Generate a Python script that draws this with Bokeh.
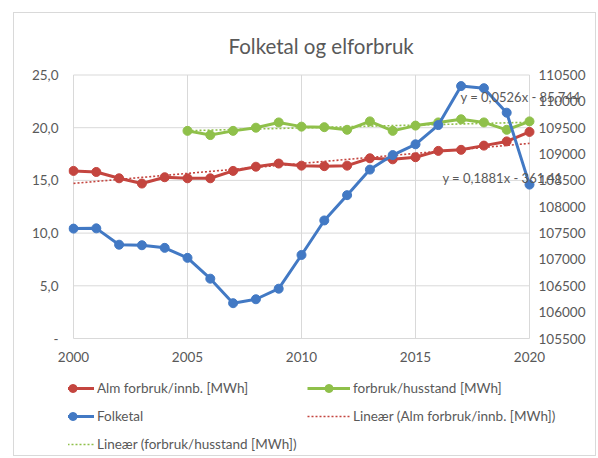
import numpy as np
from bokeh.plotting import figure
from bokeh.layouts import column
from bokeh.models import (Range1d, FixedTicker, CustomJSTickFormatter,
                          Legend, LegendItem, Label)
from bokeh.embed import file_html
from bokeh.resources import INLINE

# ---- data ----
years = list(range(2000, 2021))
alm = [15.9, 15.8, 15.2, 14.7, 15.3, 15.2, 15.2, 15.9, 16.3, 16.6, 16.4,
       16.35, 16.4, 17.1, 17.0, 17.2, 17.8, 17.9, 18.3, 18.7, 19.6]
hus_years = list(range(2005, 2021))
hus = [19.7, 19.3, 19.7, 20.0, 20.5, 20.1, 20.05, 19.8, 20.6, 19.7, 20.2,
       20.5, 20.8, 20.5, 19.8, 20.6]
folk = [107585, 107590, 107280, 107270, 107220, 107030, 106635, 106170, 106245,
        106445, 107085, 107740, 108220, 108705, 108980, 109185, 109550, 110290,
        110250, 109785, 108420]
x_ticks = [2000, 2005, 2010, 2015, 2020]
left_ticks = [0, 5, 10, 15, 20, 25]
right_ticks = list(range(105500, 111000, 500))
right_tick_labels = [str(t) for t in right_ticks]
title_text = "Folketal og elforbruk"
eq_hus = "y = 0,0526x - 85,744"
eq_alm = "y = 0,1881x - 361,41"
labels = ["Alm forbruk/innb. [MWh]", "forbruk/husstand [MWh]", "Folketal",
          "Lineær (Alm forbruk/innb. [MWh])", "Lineær (forbruk/husstand [MWh])"]

RED = "#c4453f"
GREEN = "#8fc04a"
BLUE = "#4279c4"
GRID = "#d9d9d9"
TXT = "#595959"
FONT = "Lato"
FS = "13.5px"

W = 581
PXY = 22.8    # px per year
PXU = 10.54   # px per left-axis unit
FL, FT, FH = 54, 53, 280   # frame left, top, height
x0 = years[0] - 5 / PXY
x1 = x0 + (W - FL) / PXY
y0 = left_ticks[0] - 8 / PXU
y1 = y0 + FH / PXU
rscale = (right_ticks[-1] - right_ticks[0]) / (left_ticks[-1] - left_ticks[0])

p = figure(width=W, height=357, output_backend="svg", toolbar_location=None,
           x_range=Range1d(x0, x1), y_range=Range1d(y0, y1),
           min_border_left=FL, min_border_right=0, min_border_top=FT,
           min_border_bottom=357 - FT - FH, outline_line_color=None,
           background_fill_color="white", border_fill_color="white")
p.extra_y_ranges = {"folk": Range1d(right_ticks[0] + rscale * y0,
                                    right_ticks[0] + rscale * y1)}

# title
p.title.text = title_text
p.title.text_font = FONT
p.title.text_font_size = "20.5px"
p.title.text_font_style = "normal"
p.title.text_color = TXT
p.title.align = "left"
p.title.offset = 160
p.title.standoff = 18

# grids (limited to the 2000-2020 / 0-25 plot area)
p.grid.visible = False
p.segment(x0=[years[0]] * len(left_ticks), x1=[years[-1]] * len(left_ticks),
          y0=left_ticks, y1=left_ticks, line_color=GRID, line_width=1)
p.segment(x0=x_ticks, x1=x_ticks, y0=[left_ticks[0]] * len(x_ticks),
          y1=[left_ticks[-1]] * len(x_ticks), line_color=GRID, line_width=1)

# axes
p.xaxis.ticker = FixedTicker(ticks=x_ticks)
p.yaxis.ticker = FixedTicker(ticks=left_ticks)
p.yaxis.formatter = CustomJSTickFormatter(
    code="return tick == 0 ? '-' : tick.toFixed(1).replace('.', ',');")
for ax in [p.xaxis[0], p.yaxis[0]]:
    ax.axis_line_color = None
    ax.major_tick_line_color = None
    ax.minor_tick_line_color = None
    ax.major_tick_out = 0
    ax.major_tick_in = 0
    ax.minor_tick_out = 0
    ax.major_label_text_color = TXT
    ax.major_label_text_font = FONT
    ax.major_label_text_font_size = FS
p.xaxis.major_label_standoff = 5
p.yaxis[0].major_label_standoff = 10

# secondary (right) axis labels
p.text(x=[years[-1] + 9 / PXY] * len(right_ticks), y=right_ticks,
       text=right_tick_labels, y_range_name="folk", text_align="left",
       text_baseline="middle", text_color=TXT, text_font_size=FS,
       text_font={"value": FONT})

# trend lines
a1, b1 = np.polyfit(years, alm, 1)
a2, b2 = np.polyfit(hus_years, hus, 1)
tr_style = dict(line_width=1.6, line_dash="2 2")
tr_alm = p.line(years, [a1 * x + b1 for x in years], line_color=RED, **tr_style)
tr_hus = p.line(hus_years, [a2 * x + b2 for x in hus_years], line_color=GREEN,
                **tr_style)

# series
p.line(years, alm, line_color=RED, line_width=3)
p.scatter(years, alm, size=9, fill_color=RED, line_color=RED)
p.line(hus_years, hus, line_color=GREEN, line_width=3)
p.scatter(hus_years, hus, size=9, fill_color=GREEN, line_color=GREEN)
p.line(years, folk, line_color=BLUE, line_width=3, y_range_name="folk")
p.scatter(years, folk, size=9, fill_color=BLUE, line_color=BLUE,
          y_range_name="folk")

# trend equations
p.add_layout(Label(x=2016.97, y=22.96, text=eq_hus, text_align="left",
                   text_baseline="middle", text_color=TXT, text_font=FONT,
                   text_font_size="13px"))
p.add_layout(Label(x=2016.18, y=15.2, text=eq_alm, text_align="left",
                   text_baseline="middle", text_color=TXT, text_font=FONT,
                   text_font_size="13px"))

# legend panel (second figure holding legend swatches with same styles)
q = figure(width=W, height=85, output_backend="svg", toolbar_location=None,
           x_range=Range1d(0, 1), y_range=Range1d(0, 1), min_border=0,
           x_axis_location=None, y_axis_location=None,
           outline_line_color=None, background_fill_color="white",
           border_fill_color="white")
q.grid.visible = False
e = [float("nan")]
ql_alm = q.line(e, e, line_color=RED, line_width=3)
qs_alm = q.scatter(e, e, size=9, fill_color=RED, line_color=RED)
ql_hus = q.line(e, e, line_color=GREEN, line_width=3)
qs_hus = q.scatter(e, e, size=9, fill_color=GREEN, line_color=GREEN)
ql_folk = q.line(e, e, line_color=BLUE, line_width=3)
qs_folk = q.scatter(e, e, size=9, fill_color=BLUE, line_color=BLUE)
qt_alm = q.line(e, e, line_color=RED, **tr_style)
qt_hus = q.line(e, e, line_color=GREEN, **tr_style)

lg = Legend(items=[LegendItem(label=labels[0], renderers=[ql_alm, qs_alm]),
                   LegendItem(label=labels[1], renderers=[ql_hus, qs_hus]),
                   LegendItem(label=labels[2], renderers=[ql_folk, qs_folk]),
                   LegendItem(label=labels[3], renderers=[qt_alm]),
                   LegendItem(label=labels[4], renderers=[qt_hus])],
            orientation="horizontal", ncols=2, location=(-17, 1),
            glyph_width=43, glyph_height=20, label_height=20, label_width=202,
            label_standoff=3, spacing=8, padding=0, margin=0,
            border_line_alpha=0, background_fill_alpha=0,
            label_text_font=FONT, label_text_font_size=FS,
            label_text_color=TXT)
q.add_layout(lg, "center")

layout = column(p, q, spacing=0)
layout.styles = {"border": "1px solid #d9d9d9", "margin-left": "13px",
                 "margin-top": "12px"}

open("out.html", "w").write(file_html(layout, INLINE))
